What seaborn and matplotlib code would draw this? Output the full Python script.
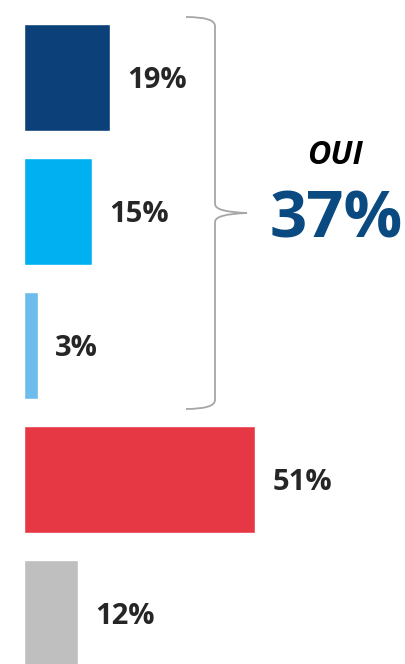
import matplotlib
matplotlib.use("Agg")
import matplotlib.pyplot as plt
from matplotlib.path import Path
from matplotlib.patches import PathPatch
import seaborn as sns

# data
categories = ["Oui, tout à fait", "Oui, plutôt", "Oui, un peu", "Non", "Ne sait pas"]
values = [19, 15, 3, 51, 12]
labels = ["19%", "15%", "3%", "51%", "12%"]
colors = ["#0B4178", "#00B0F0", "#6DBCEB", "#E63744", "#BFBFBF"]
total_label = "37%"
group_label = "OUI"

sns.set_theme(style="white")
plt.rcParams["font.family"] = ["Open Sans", "DejaVu Sans"]

W, H = 406, 664
fig = plt.figure(figsize=(W / 100, H / 100), dpi=100)
ax = fig.add_axes([0, 0, 1, 1])

sns.barplot(x=values, y=categories, hue=categories, palette=colors,
            orient="h", width=0.8, saturation=1, legend=False, ax=ax)

# axis limits tuned so that bars sit where they do in the original
ax.set_xlim(-5.3, 84.3)
ax.set_ylim(4.377, -0.578)
ax.axis("off")

for i, (v, lab) in enumerate(zip(values, labels)):
    ax.text(v + 3.8, i + 0.02, lab, va="center", ha="left", fontsize=21,
            fontweight="bold", color="#262626")

# curly brace grouping the three "oui" bars (in pixel coordinates)
def px(x, y):
    return (x / W, 1 - y / H)

verts = [px(186, 17), px(215, 17), px(215, 26),
         px(215, 204),
         px(215, 212), px(247, 213),
         px(215, 214), px(215, 222),
         px(215, 400),
         px(215, 409), px(186, 409)]
codes = [Path.MOVETO, Path.CURVE3, Path.CURVE3,
         Path.LINETO,
         Path.CURVE3, Path.CURVE3,
         Path.CURVE3, Path.CURVE3,
         Path.LINETO,
         Path.CURVE3, Path.CURVE3]
brace = PathPatch(Path(verts, codes), transform=fig.transFigure,
                  fill=False, edgecolor="#A6A6A6", linewidth=1.3)
fig.patches.append(brace)

fig.text(335 / W, 1 - 155 / H, group_label, ha="center", va="center",
         fontsize=23, fontweight="bold", fontstyle="italic", color="black")
fig.text(336 / W, 1 - 221 / H, total_label, ha="center", va="center",
         fontsize=47, fontweight="bold", color="#0B4A80")

fig.savefig("out.png", dpi=100)
